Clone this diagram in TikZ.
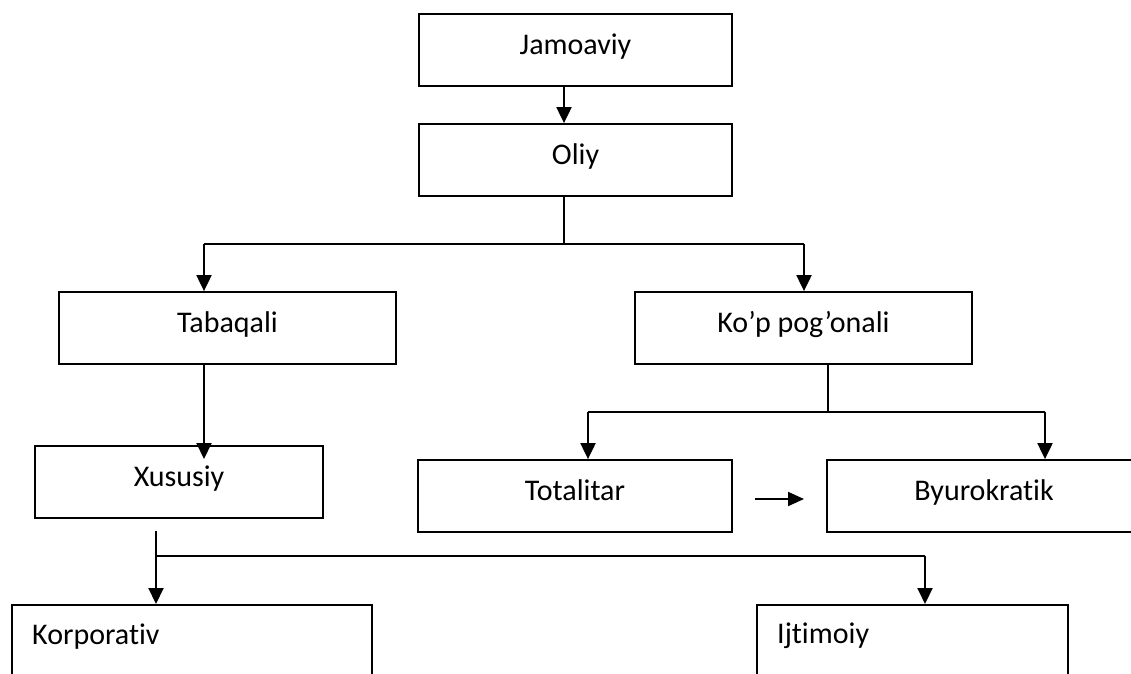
\documentclass[tikz,border=0pt]{standalone}
\usepackage{fontspec}
\setmainfont{Carlito}[RawFeature={-liga}]
\usetikzlibrary{arrows.meta}
\begin{document}
\begin{tikzpicture}[x=1pt,y=-1pt,
  box/.style={draw, line width=1.8pt, rectangle, inner sep=0pt,
    text height=20pt, text depth=12pt, minimum height=72pt,
    font=\fontsize{30}{36}\selectfont},
  openbox/.style={draw, line width=1.8pt, rectangle, inner sep=0pt, anchor=north west},
  arr/.style={line width=2pt, -{Triangle[width=15pt,length=16pt]}},
  ln/.style={line width=1.3pt},
  lbl/.style={inner sep=0pt, anchor=base west, font=\fontsize{30}{36}\selectfont}]
\useasboundingbox (0,0) rectangle (1131,673);
\clip (0,0) rectangle (1131,673);
\fill[white] (0,0) rectangle (1131,673);

% boxes
\node[box, minimum width=313pt] (jam)  at (575.5,50)  {Jamoaviy};
\node[box, minimum width=313pt] (oliy) at (575.5,160) {Oliy};
\node[box, minimum width=337pt] (tab)  at (227.5,328) {Tabaqali};
\node[box, minimum width=337pt] (kop)  at (803.5,328) {Ko’p pog’onali};
\node[box, minimum width=288pt] (xus)  at (179,482)   {Xususiy};
\node[box, minimum width=314pt] (tot)  at (575,496)   {Totalitar};
\node[box, minimum width=314pt] (byu)  at (984,496)   {Byurokratik};
\node[openbox, minimum width=360pt, minimum height=95pt] (korp) at (11,604) {};
\node[openbox, minimum width=311pt, minimum height=95pt] (ijt)  at (756,604) {};
\node[lbl] (korpt) at (32,644) {Korporativ};
\node[lbl] (ijtt)  at (777,643) {Ijtimoiy};

% junction points
\coordinate (h1)  at (564,244);
\coordinate (h1l) at (204,244);
\coordinate (h1r) at (804,244);
\coordinate (h2)  at (828,412);
\coordinate (h2l) at (588,412);
\coordinate (h2r) at (1045,412);
\coordinate (xtip) at (204,459);
\coordinate (h3t) at (156,531);
\coordinate (h3)  at (156,556);
\coordinate (h3r) at (925,556);
\coordinate (m1)  at (755,499);
\coordinate (m2)  at (804,499);

% connectors
\draw[arr] (h1 |- jam.south) -- (h1 |- oliy.north);
\draw[ln] (h1 |- oliy.south) -- (h1);
\draw[ln] (h1l) -- (h1r);
\draw[arr] (h1l) -- (h1l |- tab.north);
\draw[arr] (h1r) -- (h1r |- kop.north);

\draw[ln] (h2 |- kop.south) -- (h2);
\draw[ln] (h2l) -- (h2r);
\draw[arr] (h2l) -- (h2l |- tot.north);
\draw[arr] (h2r) -- (h2r |- byu.north);

\draw[arr] (h1l |- tab.south) -- (xtip);

\draw[arr] (h3t) -- (h3t |- korp.north);
\draw[ln] (h3) -- (h3r);
\draw[arr] (h3r) -- (h3r |- ijt.north);

\draw[line width=2pt, -{Triangle[width=14pt,length=16pt]}] (m1) -- (m2);
\end{tikzpicture}
\end{document}
